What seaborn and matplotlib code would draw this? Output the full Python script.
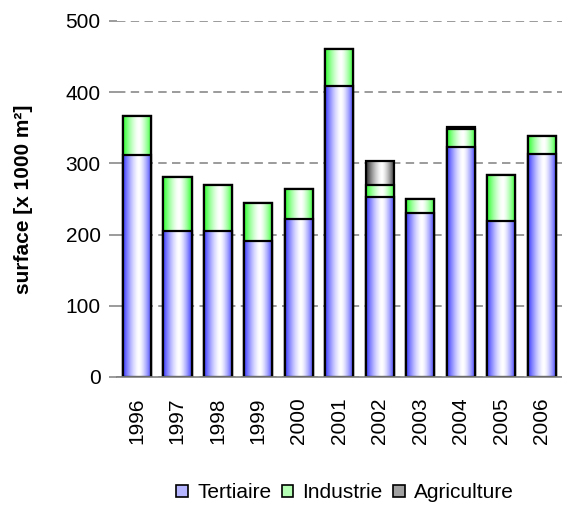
import numpy as np
import pandas as pd
import matplotlib
matplotlib.use('Agg')
import matplotlib.pyplot as plt
from matplotlib.patches import Patch
import seaborn as sns

# Données (surface en milliers de m²)
annees = ['1996', '1997', '1998', '1999', '2000', '2001', '2002', '2003', '2004', '2005', '2006']
tertiaire = [312, 205, 205, 191, 222, 408, 253, 231, 323, 219, 313]
industrie = [54, 76, 65, 54, 42, 53, 17, 19, 25, 65, 26]
agriculture = [0, 0, 0, 0, 0, 0, 34, 0, 3, 0, 0]
series = ['Tertiaire', 'Industrie', 'Agriculture']
couleurs = {'Tertiaire': '#3a3aff', 'Industrie': '#2cff2c', 'Agriculture': '#2a2a2a'}
legende_couleurs = {'Tertiaire': '#b4b4ff', 'Industrie': '#b4ffb4', 'Agriculture': '#a0a0a0'}

sns.set_style('white')
plt.rcParams['font.family'] = ['Liberation Sans', 'DejaVu Sans']
plt.rcParams['font.size'] = 15
plt.rcParams['text.color'] = 'black'
plt.rcParams['axes.labelcolor'] = 'black'
plt.rcParams['xtick.color'] = 'black'
plt.rcParams['ytick.color'] = 'black'

df = pd.DataFrame({'annee': annees, 'Tertiaire': tertiaire,
                   'Industrie': industrie, 'Agriculture': agriculture})
# cumuls pour l'empilement (on dessine du plus haut au plus bas)
df['c_Tertiaire'] = df['Tertiaire']
df['c_Industrie'] = df['Tertiaire'] + df['Industrie']
df['c_Agriculture'] = df['c_Industrie'] + df['Agriculture']


def degrade(couleur, n=80):
    # dégradé horizontal couleur -> blanc -> couleur
    rgb = np.array(matplotlib.colors.to_rgb(couleur))
    x = np.linspace(0, 1, n)
    centre = 0.55
    d = np.where(x < centre, (centre - x) / centre, (x - centre) / (1 - centre))
    m = d ** 1.5
    img = (1 - m)[:, None] * np.ones(3) + m[:, None] * rgb
    return img[None, :, :]


def remplir_degrade(ax, barres, couleur, z):
    img = degrade(couleur)
    for b in barres:
        h = b.get_height()
        if h <= 0:
            b.set_visible(False)
            continue
        x0, y0, w = b.get_x(), b.get_y(), b.get_width()
        im = ax.imshow(img, extent=[x0, x0 + w, y0, y0 + h], aspect='auto',
                       interpolation='bilinear', zorder=z)
        im.set_clip_path(b)
        b.set_facecolor('none')
        b.set_zorder(z + 0.05)


fig = plt.figure(figsize=(5.62, 5.08), dpi=100)
ax = fig.add_axes([0.2075, 0.2579, 0.7925, 0.7008])

for i, s in enumerate(reversed(series)):
    sns.barplot(data=df, x='annee', y='c_' + s, color=couleurs[s], saturation=1,
                width=0.7, edgecolor='black', linewidth=1.6, errorbar=None, ax=ax)
    remplir_degrade(ax, ax.containers[-1], couleurs[s], 2 + i * 0.2)

ax.set_xlim(-0.5, len(annees) - 0.5)
ax.set_ylim(0, 500)
ax.set_yticks(range(0, 501, 100))
ax.set_axisbelow(True)
ax.yaxis.grid(True, color='#808080', linestyle=(0, (5.5, 3.5)), linewidth=1.1)
ax.xaxis.grid(False)

for cote in ['left', 'top', 'right']:
    ax.spines[cote].set_visible(False)
ax.spines['bottom'].set_color('#808080')
ax.spines['bottom'].set_linewidth(1.2)

ax.tick_params(axis='y', left=True, length=6, width=1.1, color='#808080',
               labelcolor='black', pad=5.5, labelsize=15)
ax.tick_params(axis='x', bottom=False, pad=11, labelsize=15, labelrotation=90,
               labelcolor='black')

ax.set_xlabel('')
ax.set_ylabel('surface [x 1000 m²]', fontsize=15, fontweight='bold', color='black')
ax.yaxis.set_label_coords(-0.188, 0.5)

poignees = [Patch(facecolor=legende_couleurs[s], edgecolor='black', linewidth=1.2, label=s)
            for s in series]
fig.legend(handles=poignees, loc='center', bbox_to_anchor=(0.614, 0.03), ncol=3,
           frameon=False, fontsize=15, handlelength=0.55, handleheight=0.55,
           handletextpad=0.45, columnspacing=0.5, borderaxespad=0, labelcolor='black')

fig.savefig('out.png', dpi=100)
